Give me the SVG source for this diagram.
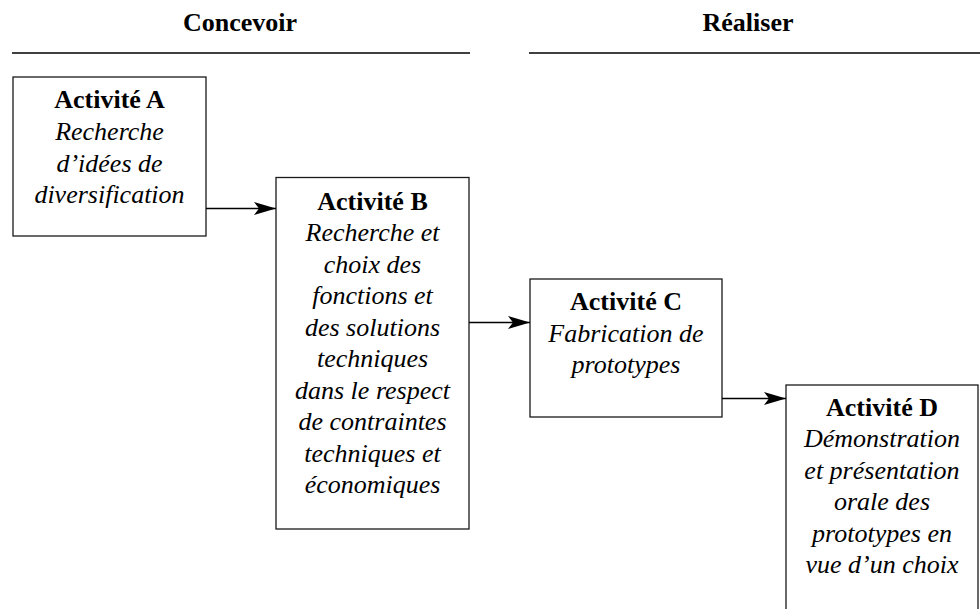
<svg xmlns="http://www.w3.org/2000/svg" width="980" height="609" viewBox="0 0 980 609">
<defs>
<marker id="ah" markerUnits="userSpaceOnUse" markerWidth="24" markerHeight="14" refX="22" refY="6.5" orient="auto">
<path d="M0,0 L22,6.5 L0,13 L5,6.5 Z" fill="#000"/>
</marker>
</defs>
<g font-family="'Times New Roman', 'Liberation Serif', serif" font-size="26" text-anchor="middle">
<g id="header-concevoir">
<text font-weight="bold" x="240" y="31">Concevoir</text>
<line stroke="#000" stroke-width="1.6" x1="12" y1="53" x2="470" y2="53"/>
</g>
<g id="header-realiser">
<text font-weight="bold" x="748" y="31">Réaliser</text>
<line stroke="#000" stroke-width="1.6" x1="529" y1="53" x2="980" y2="53"/>
</g>
<g id="node-a">
<rect fill="#fff" stroke="#1a1a1a" stroke-width="1.3" x="13" y="77" width="193" height="159"/>
<text font-weight="bold" x="109.5" y="108">Activité A</text>
<text font-style="italic" x="109.5" y="140">Recherche</text>
<text font-style="italic" x="109.5" y="171.5">d’idées de</text>
<text font-style="italic" x="109.5" y="203">diversification</text>
</g>
<g id="node-b">
<rect fill="#fff" stroke="#1a1a1a" stroke-width="1.3" x="276" y="177.5" width="193" height="351.5"/>
<text font-weight="bold" x="372.5" y="209.5">Activité B</text>
<text font-style="italic" x="372.5" y="241">Recherche et</text>
<text font-style="italic" x="372.5" y="272.5">choix des</text>
<text font-style="italic" x="372.5" y="304">fonctions et</text>
<text font-style="italic" x="372.5" y="335.5">des solutions</text>
<text font-style="italic" x="372.5" y="367">techniques</text>
<text font-style="italic" x="372.5" y="398.5">dans le respect</text>
<text font-style="italic" x="372.5" y="430">de contraintes</text>
<text font-style="italic" x="372.5" y="461.5">techniques et</text>
<text font-style="italic" x="372.5" y="493">économiques</text>
</g>
<g id="node-c">
<rect fill="#fff" stroke="#1a1a1a" stroke-width="1.3" x="530" y="279" width="192" height="138"/>
<text font-weight="bold" x="626" y="310">Activité C</text>
<text font-style="italic" x="626" y="341.5">Fabrication de</text>
<text font-style="italic" x="626" y="373">prototypes</text>
</g>
<g id="node-d">
<rect fill="#fff" stroke="#1a1a1a" stroke-width="1.3" x="786" y="385" width="192" height="240"/>
<text font-weight="bold" x="882" y="415.5">Activité D</text>
<text font-style="italic" x="882" y="447">Démonstration</text>
<text font-style="italic" x="882" y="478.5">et présentation</text>
<text font-style="italic" x="882" y="510">orale des</text>
<text font-style="italic" x="882" y="541.5">prototypes en</text>
<text font-style="italic" x="882" y="573">vue d’un choix</text>
</g>
</g>
<g id="connectors" stroke="#000" stroke-width="1.3" fill="none" marker-end="url(#ah)">
<line x1="206" y1="208.5" x2="276" y2="208.5"/>
<line x1="469" y1="322.5" x2="530" y2="322.5"/>
<line x1="722" y1="398.5" x2="786" y2="398.5"/>
</g>
</svg>
